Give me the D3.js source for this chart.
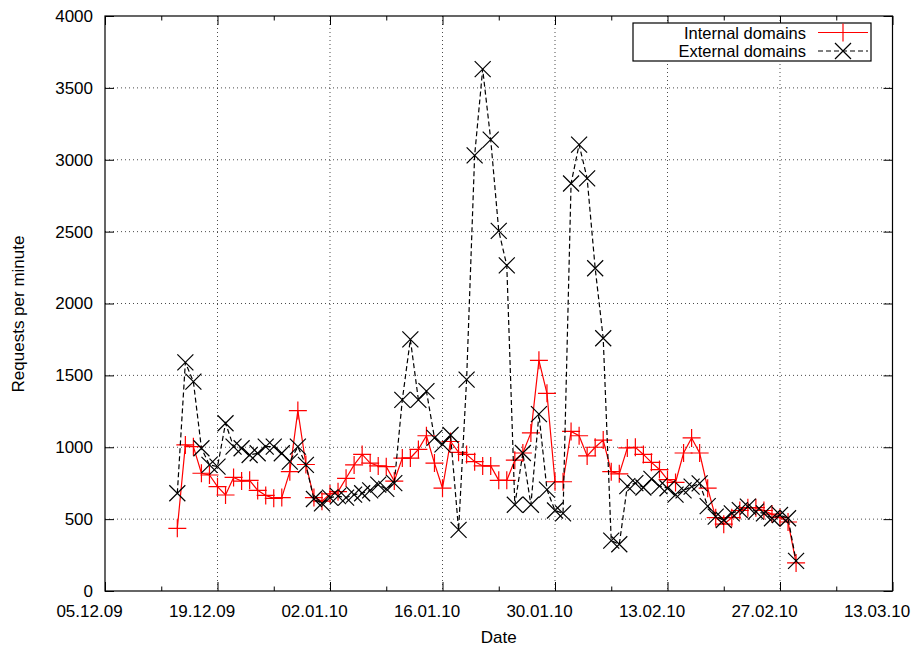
<!DOCTYPE html>
<html>
<head>
<meta charset="utf-8">
<script src="https://cdn.jsdelivr.net/npm/d3@7"></script>
<style>
body { margin: 0; background: #fff; }
text { font-family: "Liberation Sans", Arial, sans-serif; }
</style>
</head>
<body>
<script>
// days with measurements
var dates = [
  "14.12.09","15.12.09","16.12.09","17.12.09","18.12.09","19.12.09","20.12.09","21.12.09","22.12.09",
  "23.12.09","24.12.09","25.12.09","26.12.09","27.12.09","28.12.09","29.12.09","30.12.09","31.12.09",
  "01.01.10","02.01.10","03.01.10","04.01.10","05.01.10","06.01.10","07.01.10","08.01.10","09.01.10","10.01.10",
  "11.01.10","12.01.10","13.01.10","14.01.10","15.01.10","16.01.10","17.01.10","18.01.10","19.01.10","20.01.10",
  "21.01.10","22.01.10","23.01.10","24.01.10","25.01.10","26.01.10","27.01.10","28.01.10","29.01.10","30.01.10","31.01.10",
  "01.02.10","02.02.10","03.02.10","04.02.10","05.02.10","06.02.10","07.02.10","08.02.10","09.02.10","10.02.10",
  "11.02.10","12.02.10","13.02.10","14.02.10","15.02.10","16.02.10","17.02.10","18.02.10","19.02.10","20.02.10",
  "21.02.10","22.02.10","23.02.10","24.02.10","25.02.10","26.02.10","27.02.10","28.02.10",
  "01.03.10"
];

var internal = [
  436,1016,1004,819,807,726,668,790,765,770,
  700,665,645,650,830,1255,880,650,625,675,
  691,784,877,950,890,870,865,765,925,925,
  985,1080,890,715,1040,965,950,900,870,870,
  770,770,910,960,1100,1605,1375,760,760,1110,
  1080,940,1000,1050,830,815,995,1000,950,895,
  845,775,755,960,1065,960,715,510,465,510,
  560,580,580,560,535,510,480,195
];

var external = [
  680,1590,1456,993,877,865,1167,1004,993,946,
  958,1004,1004,958,900,1004,877,640,610,650,
  660,650,670,680,700,740,710,750,1330,1750,
  1330,1390,1065,1020,1085,425,1470,3030,3630,3140,
  2505,2265,600,960,600,1230,705,560,540,2835,
  3105,2870,2245,1758,350,325,730,750,720,780,
  730,715,670,700,726,749,590,517,494,540,
  563,587,552,540,506,529,506,210
];

var xTickLabels = ["05.12.09","19.12.09","02.01.10","16.01.10","30.01.10","13.02.10","27.02.10","13.03.10"];
var yTicks = [0,500,1000,1500,2000,2500,3000,3500,4000];

var parse = d3.utcParse("%d.%m.%y");

var pLeft = 105, pRight = 892.5, pTop = 16, pBottom = 591;

var svg = d3.select("body").append("svg").attr("width", 918).attr("height", 646);

var x = d3.scaleUtc()
    .domain([parse(xTickLabels[0]), parse(xTickLabels[xTickLabels.length - 1])])
    .range([pLeft, pRight]);
var y = d3.scaleLinear().domain([0, 4000]).range([pBottom, pTop]);

var majors = xTickLabels.map(parse);
var minors = majors.slice(0, -1).map(function(d) { return d3.utcDay.offset(d, 7); });

// grid
svg.append("g").selectAll("line").data(majors.slice(1, -1)).join("line")
    .attr("x1", d => x(d)).attr("x2", d => x(d))
    .attr("y1", pTop).attr("y2", pBottom)
    .attr("stroke", "#000").attr("stroke-width", 1)
    .attr("stroke-dasharray", "1,3").attr("opacity", 0.7);
svg.append("g").selectAll("line").data(yTicks.slice(1, -1)).join("line")
    .attr("x1", pLeft).attr("x2", pRight)
    .attr("y1", d => y(d)).attr("y2", d => y(d))
    .attr("stroke", "#000").attr("stroke-width", 1)
    .attr("stroke-dasharray", "1,3").attr("opacity", 0.7);

// axes
var xAxisB = d3.axisBottom(x).tickValues(majors).tickSize(-9).tickFormat("");
var xAxisT = d3.axisTop(x).tickValues(majors).tickSize(-9).tickFormat("");
var xMinB = d3.axisBottom(x).tickValues(minors).tickSize(-4.5).tickFormat("");
var xMinT = d3.axisTop(x).tickValues(minors).tickSize(-4.5).tickFormat("");
var yAxisL = d3.axisLeft(y).tickValues(yTicks).tickSize(-9).tickPadding(12).tickFormat(d3.format("d"));
var yAxisR = d3.axisRight(y).tickValues(yTicks).tickSize(-9).tickFormat("");

[[xAxisB, pBottom], [xMinB, pBottom], [xAxisT, pTop], [xMinT, pTop]].forEach(function(a) {
  svg.append("g").attr("transform", "translate(0," + a[1] + ")").call(a[0])
    .call(g => g.select(".domain").remove())
    .selectAll("line").attr("stroke", "#000");
});
var gl = svg.append("g").attr("transform", "translate(" + pLeft + ",0)").call(yAxisL);
gl.select(".domain").remove();
gl.selectAll("line").attr("stroke", "#000");
gl.selectAll("text").attr("font-size", 17).attr("font-family", "Liberation Sans, Arial, sans-serif").attr("fill", "#000");
var gr = svg.append("g").attr("transform", "translate(" + pRight + ",0)").call(yAxisR);
gr.select(".domain").remove();
gr.selectAll("line").attr("stroke", "#000");

// x tick labels (gnuplot puts them a bit left of the tick)
svg.append("g").selectAll("text").data(majors).join("text")
    .text((d, i) => xTickLabels[i])
    .attr("x", d => x(d) - 15.5)
    .attr("y", 617)
    .attr("text-anchor", "middle")
    .attr("font-size", 17);

svg.append("rect")
    .attr("x", pLeft).attr("y", pTop)
    .attr("width", pRight - pLeft).attr("height", pBottom - pTop)
    .attr("fill", "none").attr("stroke", "#000").attr("stroke-width", 1.2);

// axis titles
svg.append("text").text("Date")
    .attr("x", (pLeft + pRight) / 2).attr("y", 643)
    .attr("text-anchor", "middle").attr("font-size", 17);
svg.append("text").text("Requests per minute")
    .attr("transform", "translate(24,314) rotate(-90)")
    .attr("text-anchor", "middle").attr("font-size", 17);

var pts = dates.map(function(d, i) {
  return { date: parse(d), internal: internal[i], external: external[i] };
});

function plus(g, cx, cy, color) {
  g.append("path").attr("d", "M" + (cx - 9) + "," + cy + "H" + (cx + 9) + "M" + cx + "," + (cy - 9) + "V" + (cy + 9))
    .attr("stroke", color).attr("stroke-width", 1.2).attr("fill", "none");
}
function cross(g, cx, cy, color) {
  var s = 8;
  g.append("path").attr("d", "M" + (cx - s) + "," + (cy - s) + "L" + (cx + s) + "," + (cy + s) +
      "M" + (cx - s) + "," + (cy + s) + "L" + (cx + s) + "," + (cy - s))
    .attr("stroke", color).attr("stroke-width", 1.2).attr("fill", "none");
}

// internal domains
svg.append("path").datum(pts)
    .attr("d", d3.line().x(d => x(d.date)).y(d => y(d.internal)))
    .attr("fill", "none").attr("stroke", "#ff0000").attr("stroke-width", 1.2);
var gi = svg.append("g");
pts.forEach(function(d) { plus(gi, x(d.date), y(d.internal), "#ff0000"); });

// external domains
svg.append("path").datum(pts)
    .attr("d", d3.line().x(d => x(d.date)).y(d => y(d.external)))
    .attr("fill", "none").attr("stroke", "#000").attr("stroke-width", 1.2)
    .attr("stroke-dasharray", "5,3");
var ge = svg.append("g");
pts.forEach(function(d) { cross(ge, x(d.date), y(d.external), "#000"); });

// legend
var key = svg.append("g");
key.append("rect").attr("x", 633).attr("y", 23).attr("width", 238).attr("height", 38)
    .attr("fill", "#fff").attr("stroke", "#000").attr("stroke-width", 1.2);
key.append("text").text("Internal domains").attr("x", 806).attr("y", 38.5)
    .attr("text-anchor", "end").attr("font-size", 16.5);
key.append("text").text("External domains").attr("x", 806).attr("y", 57)
    .attr("text-anchor", "end").attr("font-size", 16.5);
key.append("line").attr("x1", 818).attr("x2", 868).attr("y1", 32.5).attr("y2", 32.5)
    .attr("stroke", "#ff0000").attr("stroke-width", 1.2);
plus(key, 843, 32.5, "#ff0000");
key.append("line").attr("x1", 818).attr("x2", 868).attr("y1", 51).attr("y2", 51)
    .attr("stroke", "#000").attr("stroke-width", 1.2).attr("stroke-dasharray", "5,3");
cross(key, 843, 51, "#000");
</script>
</body>
</html>
